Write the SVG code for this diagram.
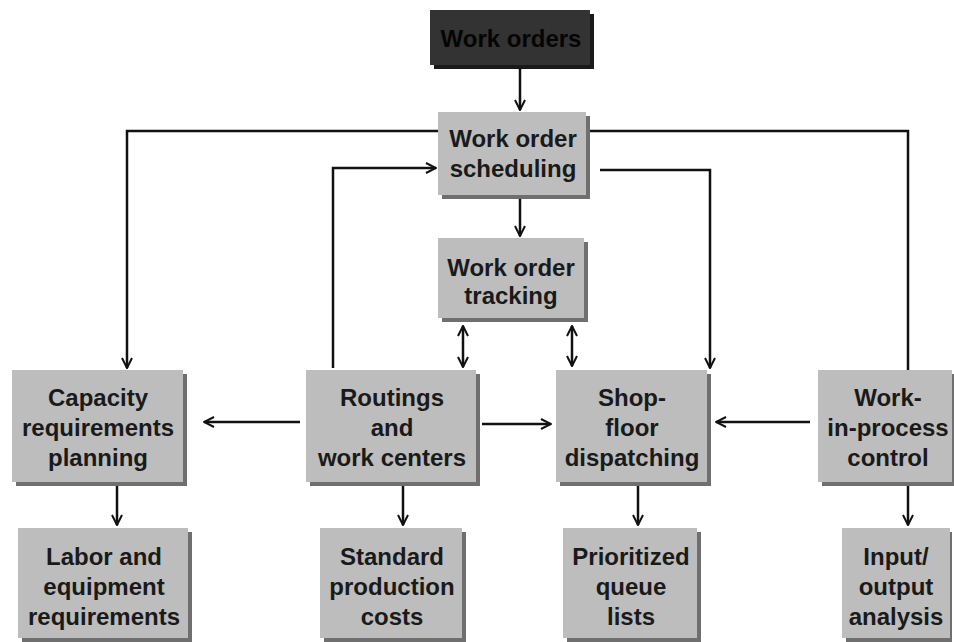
<svg xmlns="http://www.w3.org/2000/svg" width="954" height="642" viewBox="0 0 954 642">
<defs>
<marker id="ah" viewBox="0 0 12 12" refX="11" refY="6" markerWidth="12" markerHeight="12" markerUnits="userSpaceOnUse" orient="auto-start-reverse">
<path d="M1,1 L11,6 L1,11" fill="none" stroke="#111" stroke-width="2"/>
</marker>
<style>
.sh{fill:#6f6f6f}
.bx{fill:#bdbdbd}
.t{font-family:"Liberation Sans",Arial,sans-serif;font-size:24px;font-weight:bold;fill:#1a1a1a;text-anchor:middle}
.c{fill:none;stroke:#111;stroke-width:2.5}
.a{marker-end:url(#ah)}
.d{marker-start:url(#ah);marker-end:url(#ah)}
</style>
</defs>
<rect width="954" height="642" fill="#fff"/>

<g id="work-orders">
<rect class="sh" x="434" y="14" width="160" height="55" fill="#1a1a1a" style="fill:#1a1a1a"/>
<rect x="430" y="10" width="160" height="55" fill="#333"/>
<text class="t" x="511" y="47" style="fill:#050505">Work orders</text>
</g>

<g id="work-order-scheduling">
<rect class="sh" x="442" y="116" width="148" height="83"/>
<rect class="bx" x="438" y="112" width="148" height="83"/>
<text class="t" x="513" y="147">Work order</text>
<text class="t" x="513" y="177">scheduling</text>
</g>

<g id="work-order-tracking">
<rect class="sh" x="442" y="242" width="146" height="80"/>
<rect class="bx" x="438" y="238" width="146" height="80"/>
<text class="t" x="511" y="276">Work order</text>
<text class="t" x="511" y="304">tracking</text>
</g>

<g id="capacity-requirements-planning">
<rect class="sh" x="16" y="374" width="171" height="112"/>
<rect class="bx" x="12" y="370" width="171" height="112"/>
<text class="t" x="98" y="406">Capacity</text>
<text class="t" x="98" y="436">requirements</text>
<text class="t" x="98" y="466">planning</text>
</g>

<g id="routings-and-work-centers">
<rect class="sh" x="310" y="374" width="170" height="112"/>
<rect class="bx" x="306" y="370" width="170" height="112"/>
<text class="t" x="392" y="406">Routings</text>
<text class="t" x="392" y="436">and</text>
<text class="t" x="392" y="466">work centers</text>
</g>

<g id="shop-floor-dispatching">
<rect class="sh" x="560" y="374" width="151" height="112"/>
<rect class="bx" x="556" y="370" width="151" height="112"/>
<text class="t" x="632" y="406">Shop-</text>
<text class="t" x="632" y="436">floor</text>
<text class="t" x="632" y="466">dispatching</text>
</g>

<g id="work-in-process-control">
<rect class="sh" x="822" y="374" width="132" height="112"/>
<rect class="bx" x="818" y="370" width="134" height="112"/>
<text class="t" x="888" y="406">Work-</text>
<text class="t" x="888" y="436">in-process</text>
<text class="t" x="888" y="466">control</text>
</g>

<g id="labor-and-equipment-requirements">
<rect class="sh" x="22" y="532" width="170" height="110"/>
<rect class="bx" x="18" y="528" width="170" height="110"/>
<text class="t" x="104" y="565">Labor and</text>
<text class="t" x="104" y="595">equipment</text>
<text class="t" x="104" y="625">requirements</text>
</g>

<g id="standard-production-costs">
<rect class="sh" x="324" y="532" width="142" height="110"/>
<rect class="bx" x="320" y="528" width="142" height="110"/>
<text class="t" x="392" y="565">Standard</text>
<text class="t" x="392" y="595">production</text>
<text class="t" x="392" y="625">costs</text>
</g>

<g id="prioritized-queue-lists">
<rect class="sh" x="567" y="532" width="134" height="110"/>
<rect class="bx" x="563" y="528" width="134" height="110"/>
<text class="t" x="631" y="565">Prioritized</text>
<text class="t" x="631" y="595">queue</text>
<text class="t" x="631" y="625">lists</text>
</g>

<g id="input-output-analysis">
<rect class="sh" x="846" y="532" width="106" height="110"/>
<rect class="bx" x="842" y="528" width="108" height="110"/>
<text class="t" x="896" y="565">Input/</text>
<text class="t" x="896" y="595">output</text>
<text class="t" x="896" y="625">analysis</text>
</g>

<g id="connectors">
<path class="c a" d="M520,68 V110"/>
<path class="c a" d="M520,199 V236"/>
<path class="c d" d="M463,326 V367"/>
<path class="c d" d="M572,326 V366"/>
<path class="c a" d="M438,131 H127 V368"/>
<path class="c a" d="M333,368 V168 H436"/>
<path class="c a" d="M600,170 H710 V368"/>
<path class="c" d="M590,131 H908 V370"/>
<path class="c a" d="M300,422 H204"/>
<path class="c a" d="M482,424 H551"/>
<path class="c a" d="M810,422 H716"/>
<path class="c a" d="M117,486 V525"/>
<path class="c a" d="M403,486 V525"/>
<path class="c a" d="M638,486 V525"/>
<path class="c a" d="M908,486 V525"/>
</g>
</svg>
